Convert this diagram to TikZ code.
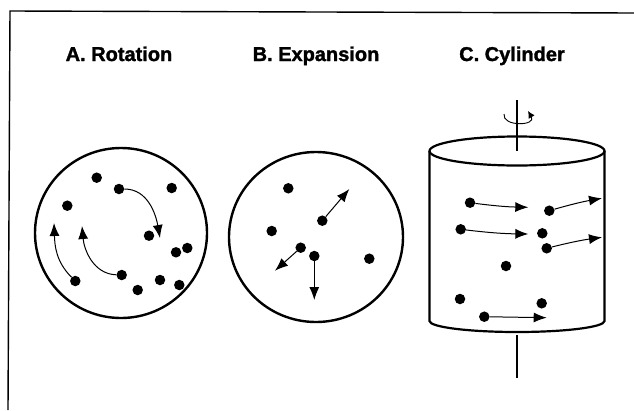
\documentclass[tikz,border=0pt]{standalone}
\usepackage{fontspec}
\setmainfont{Liberation Sans}
\newfontfamily\headfont[FakeBold=1.6]{Liberation Sans Bold}
\usetikzlibrary{arrows.meta}

\tikzset{
  dot/.style={circle,fill=black,inner sep=0pt,minimum size=10.5pt},
  ring/.style={line width=2.4pt},
  flow/.style={line width=1pt,-{Latex[length=13pt,width=10pt]}},
  heading/.style={anchor=base,font=\fontsize{20}{24}\headfont},
}

\begin{document}
\begin{tikzpicture}[x=1pt,y=-1pt]
            \useasboundingbox (0,0) rectangle (634,410);
            % frame
            \draw[line width=1.4pt] (8,410)--(10,11)--(634,13);
            % headings
            \node[heading] (hA) at (119,61) {A. Rotation};
            \node[heading] (hB) at (316,61) {B. Expansion};
            \node[heading] (hC) at (512,61) {C. Cylinder};

            % A: rotation
            \draw[ring] (121,233) ellipse (86 and 85);
            \node[dot] (a1) at (96.7,177.7) {};
            \node[dot] (a2) at (119,189) {};
            \node[dot] (a3) at (171.7,188) {};
            \node[dot] (a4) at (67.3,205.7) {};
            \node[dot] (a5) at (149,235.7) {};
            \node[dot] (a6) at (176,252.3) {};
            \node[dot] (a7) at (187.3,248) {};
            \node[dot] (a8) at (75.3,281) {};
            \node[dot] (a9) at (121.7,275) {};
            \node[dot] (a10) at (160,280) {};
            \node[dot] (a11) at (137.7,290) {};
            \node[dot] (a12) at (179.3,285) {};
            \coordinate (ta1) at (160,238);
            \coordinate (ta2) at (54,223);
            \coordinate (ta3) at (82,226);
            \draw[flow] (a2) to[out=0,in=100] (ta1);
            \draw[flow] (a8) to[out=135,in=-88] (ta2);
            \draw[flow] (a9) to[out=178,in=-85] (ta3);

            % B: expansion
            \draw[ring] (316,237) ellipse (87 and 85);
            \node[dot] (b1) at (288.3,188.3) {};
            \node[dot] (b2) at (322.3,220.7) {};
            \node[dot] (b3) at (271.7,231) {};
            \node[dot] (b4) at (300.7,247.7) {};
            \node[dot] (b5) at (314.3,256) {};
            \node[dot] (b6) at (369.3,258.7) {};
            \coordinate (tb1) at (349.3,189);
            \coordinate (tb2) at (275,270.7);
            \coordinate (tb3) at (314.3,300);
            \draw[flow] (b2)--(tb1);
            \draw[flow] (b4)--(tb2);
            \draw[flow] (b5)--(tb3);

            % C: cylinder
            \draw[line width=2.2pt] (517,151) ellipse (87.5 and 14.5);
            \draw[line width=2.2pt] (429.5,151)--(429.5,321) arc (180:0:87.5 and 11)--(604.5,151);
            \draw[line width=2pt] (517,100)--(517,151);
            \draw[line width=2pt] (517,335)--(517,378);
            \draw[line width=0.9pt,-{Latex[length=7pt,width=7pt]}] (504,114) .. controls (502,127) and (537,126) .. (528,111);
            \node[dot] (c1) at (470,202.7) {};
            \node[dot] (c2) at (549.3,210.7) {};
            \node[dot] (c3) at (460.7,229.3) {};
            \node[dot] (c4) at (542.3,233.3) {};
            \node[dot] (c5) at (546.7,248.3) {};
            \node[dot] (c6) at (506,266) {};
            \node[dot] (c7) at (460,299) {};
            \node[dot] (c8) at (541.7,303.3) {};
            \node[dot] (c9) at (484.3,316.7) {};
            \coordinate (tc1) at (528.3,207.3);
            \coordinate (tc2) at (602,198.3);
            \coordinate (tc3) at (528.3,234);
            \coordinate (tc4) at (602,237.3);
            \coordinate (tc5) at (546.7,317.7);
            \draw[flow] (c1) to[bend right=3] (tc1);
            \draw[flow] (c2) to[bend left=3] (tc2);
            \draw[flow] (c3) to[bend right=3] (tc3);
            \draw[flow] (c5) to[bend left=3] (tc4);
            \draw[flow] (c9)--(tc5);
        \end{tikzpicture}
\end{document}
